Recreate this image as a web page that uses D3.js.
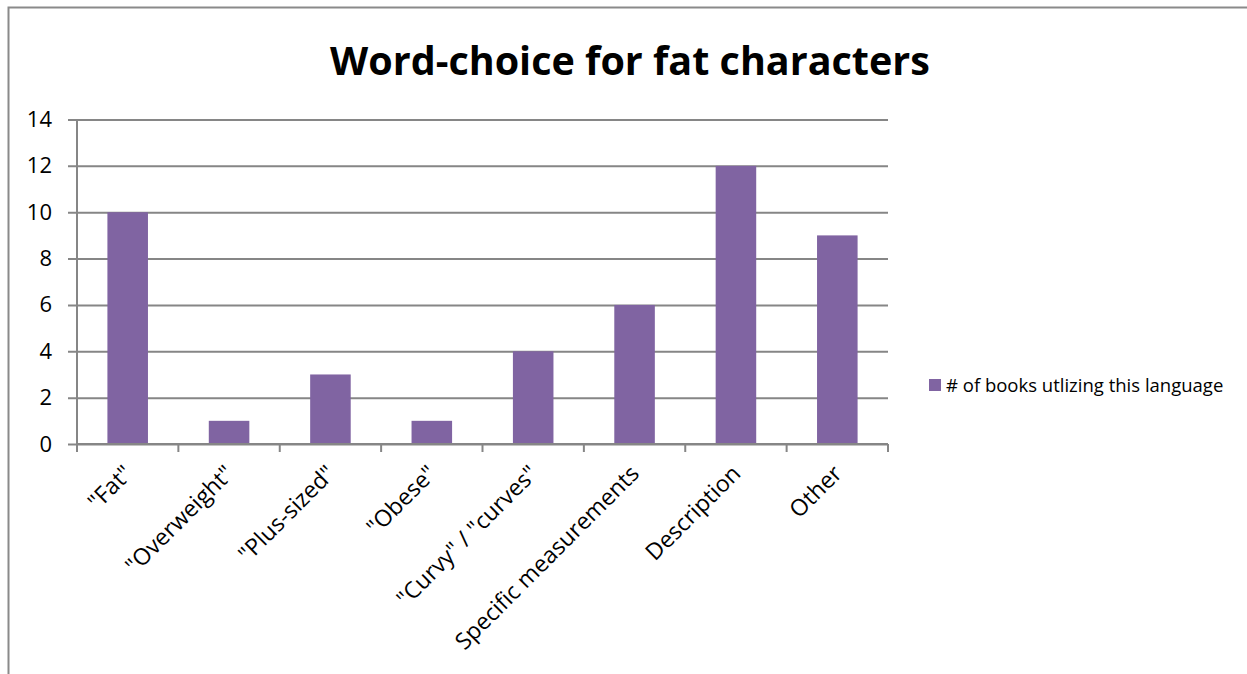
<!DOCTYPE html>
<html>
<head>
<meta charset="utf-8">
<script src="https://cdn.jsdelivr.net/npm/d3@7"></script>
<style>
  html, body { margin: 0; padding: 0; background: #fff; }
  svg { display: block; }
  text { font-family: "Open Sans", "Noto Sans", sans-serif; fill: #000; }
</style>
</head>
<body>
<svg id="chart" width="1247" height="674"></svg>
<script>
// Chart data
const categories = ['"Fat"', '"Overweight"', '"Plus-sized"', '"Obese"', '"Curvy" / "curves"', 'Specific measurements', 'Description', 'Other'];
const seriesName = "# of books utlizing this language";
const values = [10, 1, 3, 1, 4, 6, 12, 9];
const yTicks = [0, 2, 4, 6, 8, 10, 12, 14];
const title = "Word-choice for fat characters";

const svg = d3.select("#chart");
const barColor = "#8064A2";
const lineColor = "#868686";

// Chart frame
svg.append("path")
  .attr("d", "M8.5,674 V7.5 H1247")
  .attr("fill", "none")
  .attr("stroke", "#8a8a8a")
  .attr("stroke-width", 2);

const plot = { left: 77, right: 888, top: 119.5, bottom: 444 };

const x = d3.scaleBand()
  .domain(categories)
  .range([plot.left, plot.right])
  .paddingInner(0.6)
  .paddingOuter(0.3);

const xBand = d3.scaleBand()
  .domain(categories)
  .range([plot.left, plot.right]);

const y = d3.scaleLinear()
  .domain([0, 14])
  .range([plot.bottom, plot.top]);

// Title
svg.append("text")
  .attr("x", 630)
  .attr("y", 75)
  .attr("text-anchor", "middle")
  .style("font-size", "39.5px")
  .style("font-weight", "bold")
  .text(title);

// Horizontal gridlines with left tick marks
const yAxis = d3.axisLeft(y)
  .tickValues(yTicks)
  .tickSize(plot.right - plot.left + 9)
  .tickPadding(16);

const gy = svg.append("g")
  .attr("transform", `translate(${plot.right},0)`)
  .call(yAxis);
gy.select(".domain").remove();
gy.selectAll(".tick line").attr("stroke", lineColor).attr("stroke-width", 2);
gy.selectAll(".tick text")
  .style("font-size", "22px")
  .attr("fill", "#000");

// Vertical value axis line
svg.append("line")
  .attr("x1", plot.left).attr("x2", plot.left)
  .attr("y1", plot.top).attr("y2", plot.bottom + 1)
  .attr("stroke", lineColor).attr("stroke-width", 2);

// Bars
svg.append("g")
  .selectAll("rect")
  .data(values)
  .join("rect")
  .attr("x", (d, i) => x(categories[i]))
  .attr("width", x.bandwidth())
  .attr("y", d => y(d))
  .attr("height", d => y(0) - y(d))
  .attr("fill", barColor);

// Category axis with tick marks at band boundaries
const gx = svg.append("g")
  .attr("transform", `translate(0,${plot.bottom})`);
gx.append("line")
  .attr("x1", plot.left).attr("x2", plot.right)
  .attr("stroke", lineColor).attr("stroke-width", 2);
const bounds = categories.map(c => xBand(c)).concat([plot.right]);
gx.selectAll("line.tk")
  .data(bounds)
  .join("line")
  .attr("class", "tk")
  .attr("x1", d => d).attr("x2", d => d)
  .attr("y1", 0).attr("y2", 8)
  .attr("stroke", lineColor).attr("stroke-width", 2);

gx.selectAll("text.cat")
  .data(categories)
  .join("text")
  .attr("class", "cat")
  .attr("text-anchor", "end")
  .attr("transform", d => `translate(${xBand(d) + xBand.bandwidth() / 2 + 6},${31}) rotate(-45)`)
  .style("font-size", "23px")
  .text(d => d);

// Legend
const legend = svg.append("g").attr("transform", "translate(929,379)");
legend.append("rect")
  .attr("width", 12).attr("height", 12)
  .attr("fill", barColor);
legend.append("text")
  .attr("x", 17).attr("y", 12.5)
  .style("font-size", "18.5px")
  .text(seriesName);
</script>
</body>
</html>
